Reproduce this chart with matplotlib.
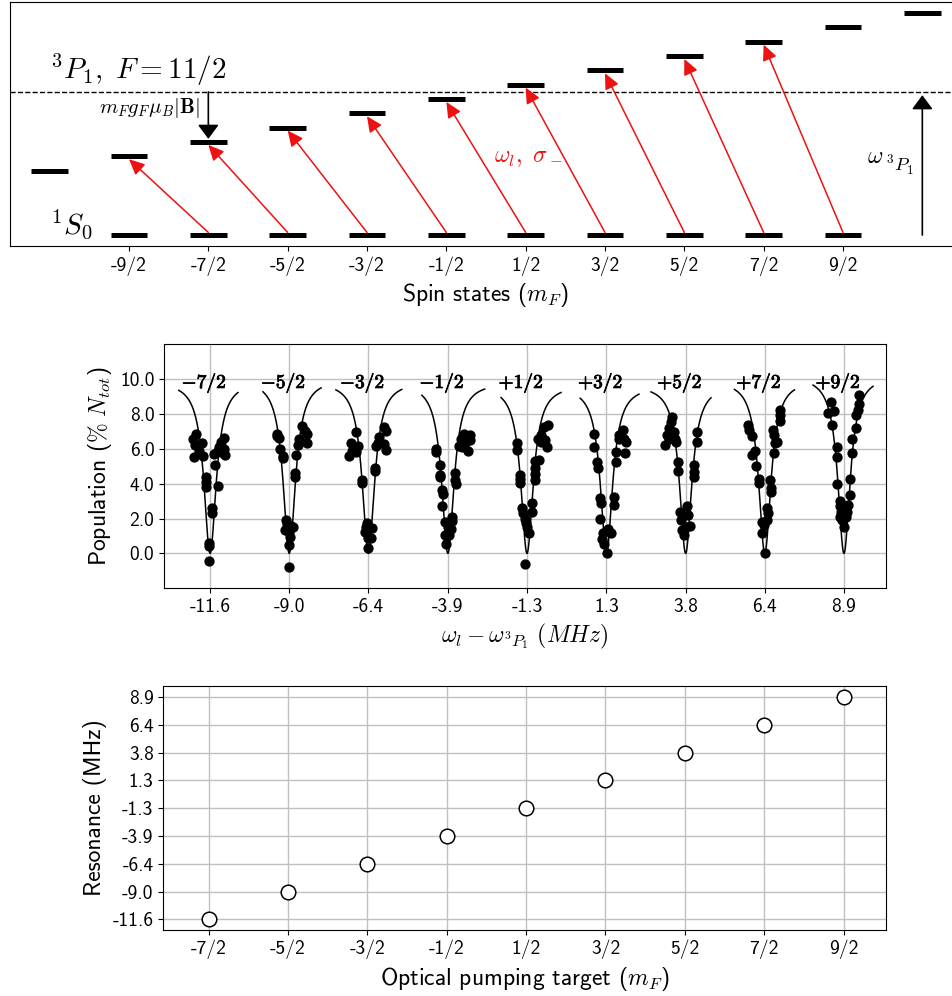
import matplotlib
matplotlib.use('Agg')
import matplotlib.pyplot as plt
import matplotlib.patheffects as pe
import numpy as np

plt.rcParams['font.family'] = ['cmss10', 'DejaVu Sans']
plt.rcParams['mathtext.fontset'] = 'cm'
plt.rcParams['axes.unicode_minus'] = False
plt.rcParams['axes.formatter.use_mathtext'] = True

# ---------------- data ----------------
# top panel: level diagram (arbitrary energy units)
ground_mF = [-4.5, -3.5, -2.5, -1.5, -0.5, 0.5, 1.5, 2.5, 3.5, 4.5]
ground_E = [0, 0, 0, 0, 0, 0, 0, 0, 0, 0]
upper_mF = [-5.5, -4.5, -3.5, -2.5, -1.5, -0.5, 0.5, 1.5, 2.5, 3.5, 4.5, 5.5]
upper_E = [4.5, 5.5, 6.5, 7.5, 8.5, 9.5, 10.5, 11.5, 12.5, 13.5, 14.5, 15.5]
upper_center_E = 10.0
pump_from = [-3.5, -2.5, -1.5, -0.5, 0.5, 1.5, 2.5, 3.5, 4.5]
spin_tick_labels = ['-9/2', '-7/2', '-5/2', '-3/2', '-1/2', '1/2', '3/2', '5/2', '7/2', '9/2']

# middle / bottom: resonances (MHz)
targets = [-3.5, -2.5, -1.5, -0.5, 0.5, 1.5, 2.5, 3.5, 4.5]
target_labels = ['-7/2', '-5/2', '-3/2', '-1/2', '1/2', '3/2', '5/2', '7/2', '9/2']
resonances = [-11.56, -9.00, -6.44, -3.87, -1.31, 1.26, 3.82, 6.38, 8.94]
dip_labels = [r'$\mathbf{-7/2}$', r'$\mathbf{-5/2}$', r'$\mathbf{-3/2}$', r'$\mathbf{-1/2}$',
              r'$\mathbf{+1/2}$', r'$\mathbf{+3/2}$', r'$\mathbf{+5/2}$', r'$\mathbf{+7/2}$',
              r'$\mathbf{+9/2}$']

# fit curves: baseline, width and plotted range around each resonance
fit_baseline = [9.87, 10.0, 9.86, 9.8, 9.66, 9.6, 9.68, 9.96, 10.2]
fit_width = 0.24
fit_lo = [-1.01, -0.85, -1.05, -0.84, -0.84, -0.85, -1.12, -0.98, -1.00]
fit_hi = [0.90, 1.03, 1.08, 1.19, 1.10, 1.05, 0.82, 0.96, 0.94]

# measured points: detuning offset from resonance (MHz), population (% N_tot)
m7_dx = [-0.46, -0.54, -0.25, -0.50, -0.36, -0.52, -0.23, -0.14, -0.14, -0.14, 0.05, 0.05, -0.03,
         -0.05, -0.03, 0.45, 0.34, 0.29, 0.45, 0.24, 0.13, 0.43, 0.47, 0.16, 0.27]
m7_y = [6.83, 6.58, 6.34, 6.20, 5.88, 5.53, 5.57, 4.39, 4.10, 3.82, 2.58, 2.29, 0.57,
        0.44, -0.46, 6.64, 6.39, 6.11, 6.01, 5.82, 5.69, 5.76, 5.63, 5.06, 3.85]
m5_dx = [-0.38, -0.32, -0.38, -0.29, -0.20, -0.20, -0.11, -0.08, -0.13, -0.02, 0.05, 0.11, 0.01,
         0.00, 0.00, 0.41, 0.52, 0.59, 0.59, 0.30, 0.36, 0.28, 0.23, 0.19, 0.19]
m5_y = [6.87, 6.64, 6.72, 6.01, 5.57, 5.44, 1.91, 1.68, 1.34, 1.24, 1.58, 1.49, 0.95,
        0.48, -0.80, 7.29, 7.02, 6.87, 6.34, 6.53, 6.39, 6.20, 5.63, 4.58, 4.39]
m3_dx = [-0.41, -0.57, -0.46, -0.32, -0.54, -0.62, -0.39, -0.22, -0.22, -0.03, -0.09, -0.11, 0.02,
         0.11, 0.00, 0.08, 0.00, 0.51, 0.58, 0.34, 0.32, 0.51, 0.58, 0.26, 0.22, 0.22]
m3_y = [6.97, 6.30, 6.11, 6.15, 5.88, 5.57, 5.82, 4.20, 4.01, 1.76, 1.53, 1.24, 1.43,
        1.43, 0.88, 0.88, 0.31, 7.25, 7.00, 6.68, 6.30, 6.26, 5.92, 6.16, 4.92, 4.73]
m1_dx = [-0.37, -0.37, -0.27, -0.27, -0.24, -0.18, -0.16, -0.18, -0.10, 0.01, -0.08, -0.05, 0.05,
         0.09, 0.14, 0.12, 0.23, 0.23, 0.25, 0.41, 0.52, 0.70, 0.73, 0.46, 0.66, 0.36, 0.57]
m1_y = [6.01, 5.82, 5.06, 4.52, 4.35, 3.66, 3.40, 2.73, 1.81, 1.53, 1.05, 0.53, 1.05,
        1.37, 2.10, 1.87, 4.58, 4.20, 3.97, 6.58, 6.83, 6.77, 6.49, 6.11, 5.88, 6.15, 6.30]
p1_dx = [-0.34, -0.34, -0.24, -0.24, -0.24, -0.16, -0.13, -0.08, -0.02, 0.01, 0.05, -0.05, 0.16,
         0.16, 0.25, 0.25, 0.25, 0.25, 0.38, 0.44, 0.55, 0.68, 0.46, 0.59, 0.66, 0.36]
p1_y = [6.30, 5.95, 4.48, 4.24, 4.01, 2.61, 2.29, 2.00, 1.72, 1.53, 1.15, -0.61, 2.86,
        2.39, 5.31, 4.87, 4.54, 4.20, 5.38, 6.39, 7.25, 7.35, 6.77, 6.49, 6.07, 6.53]
p3_dx = [-0.39, -0.39, -0.31, -0.28, -0.20, -0.17, -0.20, -0.10, -0.13, -0.09, -0.02, 0.06, 0.13,
         0.01, 0.23, 0.23, 0.30, 0.30, 0.39, 0.52, 0.58, 0.62, 0.60, 0.41]
p3_y = [6.83, 6.11, 5.25, 4.92, 3.15, 2.86, 1.95, 1.18, 0.80, 0.53, 1.30, 1.37, 1.15,
        0.00, 3.21, 2.77, 5.82, 5.25, 6.58, 7.10, 6.53, 6.39, 5.76, 6.77]
p5_dx = [-0.44, -0.46, -0.53, -0.60, -0.66, -0.39, -0.36, -0.31, -0.53, -0.25, -0.25, -0.17, -0.14,
         -0.12, -0.06, 0.01, 0.04, 0.08, 0.15, 0.26, 0.26, 0.26, 0.37, 0.37]
p5_y = [7.82, 7.54, 7.16, 6.77, 6.20, 6.97, 6.53, 6.39, 6.58, 5.25, 4.73, 2.39, 1.91,
        1.34, 1.05, 1.53, 2.71, 2.19, 1.58, 5.06, 4.68, 4.35, 6.97, 6.39]
p7_dx = [-0.53, -0.51, -0.40, -0.31, -0.40, -0.29, -0.20, -0.20, -0.10, -0.04, -0.10, 0.01, 0.06,
         0.10, 0.06, 0.18, 0.20, 0.20, 0.28, 0.31, 0.33, 0.29, 0.50, 0.50, 0.50, 0.39]
p7_y = [7.35, 7.10, 6.72, 5.88, 5.63, 5.00, 4.24, 4.01, 1.81, 1.62, 1.15, 0.00, 2.58,
        2.29, 1.91, 4.20, 3.72, 3.53, 7.10, 6.77, 6.30, 5.73, 8.24, 7.92, 7.60, 6.39]
p9_dx = [-0.41, -0.52, -0.32, -0.38, -0.23, -0.23, -0.23, -0.12, -0.14, -0.14, -0.05, -0.01, -0.09,
         0.05, 0.10, 0.14, 0.18, 0.18, 0.26, 0.27, 0.38, 0.40, 0.45, 0.48, 0.48]
p9_y = [8.68, 8.02, 8.17, 7.35, 6.07, 5.50, 3.97, 3.02, 2.71, 2.10, 1.91, 1.53, 2.39,
        2.10, 2.39, 2.77, 3.34, 4.27, 5.76, 6.53, 7.16, 7.92, 8.24, 8.59, 9.06]

dip_dx = [m7_dx, m5_dx, m3_dx, m1_dx, p1_dx, p3_dx, p5_dx, p7_dx, p9_dx]
dip_y = [m7_y, m5_y, m3_y, m1_y, p1_y, p3_y, p5_y, p7_y, p9_y]
pop_ticks = [0, 2, 4, 6, 8, 10]

# ---------------- figure ----------------
W, H = 952, 996
fig = plt.figure(figsize=(W / 100, H / 100), dpi=100)

def box(l, t, r, b):
    return [l / W, 1 - b / H, (r - l) / W, (b - t) / H]

ax1 = fig.add_axes(box(10, 2, 962, 246.5))
ax2 = fig.add_axes(box(164, 344, 885.7, 588.3))
ax3 = fig.add_axes(box(163.3, 685.7, 885.7, 930))

TICK = 14
LABEL = 17
RED = '#ee1111'

# ---- top: energy level diagram ----
half = 0.23
bar_lw = 3.6
for m, E in zip(ground_mF, ground_E):
    ax1.plot([m - half, m + half], [E, E], color='k', lw=bar_lw, solid_capstyle='butt')
for m, E in zip(upper_mF, upper_E):
    ax1.plot([m - half, m + half], [E, E], color='k', lw=bar_lw, solid_capstyle='butt')
ax1.axhline(upper_center_E, color='k', lw=1.0, ls='--')

for m in pump_from:
    tgt = upper_E[upper_mF.index(m - 1)]
    ax1.annotate('', xy=(m - 1, tgt - 0.2), xytext=(m, 0.18),
                 arrowprops=dict(arrowstyle='-|>,head_length=0.47,head_width=0.22',
                                 color=RED, lw=1.1, shrinkA=0, shrinkB=0,
                                 mutation_scale=20))

ax1.annotate('', xy=(-3.5, upper_E[upper_mF.index(-3.5)] + 0.22), xytext=(-3.5, upper_center_E),
             arrowprops=dict(arrowstyle='-|>,head_length=0.43,head_width=0.32',
                             color='k', lw=1.2, shrinkA=0, shrinkB=0, mutation_scale=20))
ax1.annotate('', xy=(5.5, upper_center_E - 0.23), xytext=(5.5, 0.0),
             arrowprops=dict(arrowstyle='-|>,head_length=0.43,head_width=0.32',
                             color='k', lw=1.2, shrinkA=0, shrinkB=0, mutation_scale=20))

ax1.text(-5.5, 10.9, r'$^3P_1,\ F=11/2$', fontsize=21, ha='left', va='baseline')
ax1.text(-5.5, 0.07, r'$^1S_0$', fontsize=21, ha='left', va='baseline')
ax1.text(-3.61, 8.85, r'$m_F g_F \mu_B |\mathbf{B}|$', fontsize=15, ha='right', va='center')
ax1.text(0.1, 5.4, r'$\omega_l,\ \sigma_-$', fontsize=17, ha='left', va='center', color=RED)
ax1.text(4.80, 5.01, r'$\omega$', fontsize=17, ha='left', va='baseline')
ax1.text(5.04, 4.40, r'$^3P_1$', fontsize=13.5, ha='left', va='baseline')

ax1.set_xlim(-6, 6)
ax1.set_ylim(-0.80, 16.28)
ax1.set_yticks([])
ax1.set_xticks(ground_mF)
ax1.set_xticklabels(spin_tick_labels, fontsize=TICK)
ax1.spines['right'].set_visible(False)
ax1.set_xlabel(r'Spin states ($m_F$)', fontsize=LABEL)

# ---- middle: spectra ----
for c, lo, hi, B, dxs, ys, lab in zip(resonances, fit_lo, fit_hi, fit_baseline, dip_dx, dip_y, dip_labels):
    xx = np.linspace(c + lo, c + hi, 800)
    d = xx - c
    ax2.plot(xx, B * d ** 2 / (fit_width ** 2 + d ** 2), color='k', lw=1.1)
    ax2.plot(c + np.array(dxs), ys, 'o', color='k', ms=6.4, ls='none')
    ax2.text(c - 0.19, 9.8, lab, ha='center', va='center', fontsize=14,
             path_effects=[pe.withStroke(linewidth=0.6, foreground='k')])

ax2.set_xlim(-13.05, 10.29)
ax2.set_ylim(-2.0, 12.0)
ax2.set_xticks(resonances)
ax2.set_xticklabels(['%.1f' % r for r in resonances], fontsize=TICK)
ax2.set_yticks(pop_ticks)
ax2.set_yticklabels(['%.1f' % p for p in pop_ticks], fontsize=TICK)
ax2.grid(True, color='#c0c0c0', lw=1.0)
ax2.set_xlabel(r'$\omega_l - \omega_{^3P_1}\ (MHz)$', fontsize=LABEL)
ax2.set_ylabel(r'Population ($\%\ N_{tot}$)', fontsize=LABEL)

# ---- bottom: resonance vs target ----
ax3.plot(targets, resonances, 'o', mfc='white', mec='black', ms=10.5, mew=1.1, ls='none')
ax3.set_xlim(-4.07, 5.03)
ax3.set_ylim(-12.55, 10.01)
ax3.set_xticks(targets)
ax3.set_xticklabels(target_labels, fontsize=TICK)
ax3.set_yticks(resonances)
ax3.set_yticklabels(['%.1f' % r for r in resonances], fontsize=TICK)
ax3.grid(True, color='#c0c0c0', lw=1.0)
ax3.set_xlabel(r'Optical pumping target ($m_F$)', fontsize=LABEL)
ax3.set_ylabel('Resonance (MHz)', fontsize=LABEL)

fig.savefig('out.png', dpi=100)
